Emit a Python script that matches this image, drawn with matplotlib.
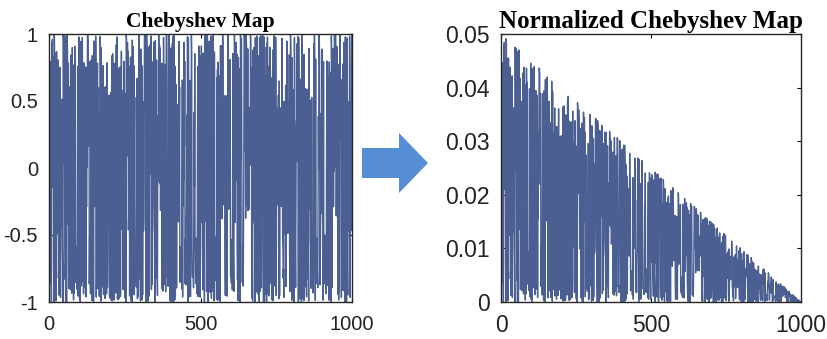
import numpy as np
import matplotlib.pyplot as plt
from matplotlib.patches import FancyArrow

# --- chart data ---
# the series is the Chebyshev map itself: x[n+1] = cos(degree * arccos(x[n]))
n_points = 1000
map_degree = 4
x_start = 0.3
norm_peak = 0.05

left_title = "Chebyshev Map"
right_title = "Normalized Chebyshev Map"
x_ticks = [0, 500, 1000]
left_yticks = [-1, -0.5, 0, 0.5, 1]
left_ylabels = ["-1", "-0.5", "0", "0.5", "1"]
right_yticks = [0, 0.01, 0.02, 0.03, 0.04, 0.05]
right_ylabels = ["0", "0.01", "0.02", "0.03", "0.04", "0.05"]

chebyshev = [x_start]
for _ in range(n_points - 1):
    chebyshev.append(float(np.cos(map_degree * np.arccos(chebyshev[-1]))))
chebyshev = np.array(chebyshev)
index = np.arange(1, n_points + 1)
normalized = (chebyshev + 1) / 2 * norm_peak * (1 - index / n_points)

# --- plot ---
line_color = "#4b5f92"
tick_font = "Liberation Sans"
title_font = "Liberation Serif"

fig = plt.figure(figsize=(8.27, 3.39), dpi=100)
ax1 = fig.add_axes([49 / 827, 1 - 302 / 339, 303 / 827, 268 / 339])
ax2 = fig.add_axes([501 / 827, 1 - 302 / 339, 300 / 827, 268 / 339])

ax1.plot(index, chebyshev, color=line_color, linewidth=1.0)
ax1.set_xlim(0, 1000)
ax1.set_ylim(-1, 1)
ax1.set_yticks(left_yticks)
ax1.set_yticklabels(left_ylabels)
ax1.set_title(left_title, family=title_font, fontweight="bold", fontsize=15.5, pad=5)

ax2.plot(index, normalized, color=line_color, linewidth=1.0)
ax2.set_xlim(0, 1000)
ax2.set_ylim(0, 0.05)
ax2.set_yticks(right_yticks)
ax2.set_yticklabels(right_ylabels)
ax2.set_title(right_title, family=title_font, fontweight="bold", fontsize=18, pad=4)

for ax, size in ((ax1, 14.5), (ax2, 16.5)):
    ax.set_xticks(x_ticks)
    ax.tick_params(direction="in", top=True, right=True, length=3, width=0.8,
                   labelsize=size, pad=8, colors="black")
    ax.tick_params(axis="x", pad=9)
    for lab in ax.get_xticklabels() + ax.get_yticklabels():
        lab.set_family(tick_font)
        lab.set_color("#222222")
    for sp in ax.spines.values():
        sp.set_linewidth(1.0)
        sp.set_color("#262626")

# blue arrow between the two panels
arrow = FancyArrow(362 / 827, 1 - 163 / 339, 37 / 827, 0, width=30 / 339,
                   head_width=60 / 339, head_length=29 / 827,
                   length_includes_head=False, color="#558ed5",
                   transform=fig.transFigure, linewidth=0)
fig.patches.append(arrow)

fig.savefig("out.png", dpi=100)
